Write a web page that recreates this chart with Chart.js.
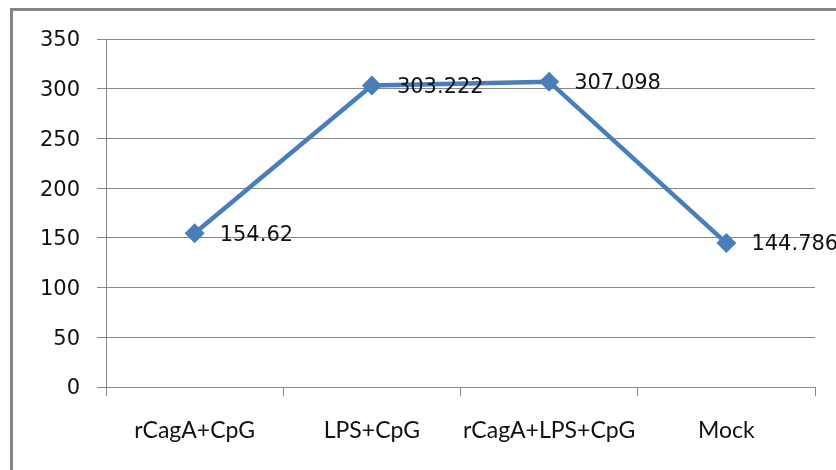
<!DOCTYPE html>
<html>
<head>
<meta charset="utf-8">
<script src="https://cdn.jsdelivr.net/npm/chart.js@4/dist/chart.umd.min.js"></script>
<style>
  html, body { margin: 0; padding: 0; background: #ffffff; }
  #wrap { position: relative; width: 836px; height: 470px; }
</style>
</head>
<body>
<div id="wrap"><canvas id="chart" width="836" height="470"></canvas></div>
<script>
// Treatment groups and their measured values
const categories = ['rCagA+CpG', 'LPS+CpG', 'rCagA+LPS+CpG', 'Mock'];
const values = [154.62, 303.222, 307.098, 144.786];
const valueLabels = ['154.62', '303.222', '307.098', '144.786'];
const yTicks = [0, 50, 100, 150, 200, 250, 300, 350];

const LINE_BLUE = '#4a7ebb';
const AXIS_GREY = '#878787';
const TEXT_DARK = '#111111';

// Frame drawn along the top and left edges of the chart box
const framePlugin = {
  id: 'frame',
  beforeDraw(chart) {
    const ctx = chart.ctx;
    ctx.save();
    ctx.fillStyle = '#ffffff';
    ctx.fillRect(0, 0, chart.width, chart.height);
    ctx.fillStyle = '#858585';
    ctx.fillRect(10, 8, chart.width - 10, 3);
    ctx.fillRect(10, 8, 3, chart.height - 8);
    ctx.restore();
  }
};

// Value labels written to the right of each marker
const valueLabelPlugin = {
  id: 'valueLabels',
  afterDatasetsDraw(chart) {
    const ctx = chart.ctx;
    const meta = chart.getDatasetMeta(0);
    ctx.save();
    ctx.font = '21px "DejaVu Sans"';
    ctx.fillStyle = TEXT_DARK;
    ctx.textAlign = 'left';
    ctx.textBaseline = 'middle';
    meta.data.forEach((pt, i) => {
      ctx.fillText(valueLabels[i], pt.x + 25, pt.y + 2);
    });
    ctx.restore();
  }
};

new Chart(document.getElementById('chart'), {
  type: 'line',
  data: {
    labels: categories,
    datasets: [{
      data: values,
      borderColor: LINE_BLUE,
      backgroundColor: LINE_BLUE,
      borderWidth: 4.5,
      tension: 0,
      pointStyle: 'rectRot',
      pointRadius: 10,
      pointHoverRadius: 10,
      pointBorderWidth: 0,
      pointBackgroundColor: LINE_BLUE
    }]
  },
  options: {
    responsive: false,
    animation: false,
    events: [],
    layout: { padding: { left: 0, top: 39, right: 21, bottom: 0 } },
    plugins: {
      legend: { display: false },
      tooltip: { enabled: false }
    },
    scales: {
      x: {
        offset: true,
        grid: {
          offset: true,
          drawOnChartArea: false,
          drawTicks: true,
          tickLength: 9,
          color: AXIS_GREY,
          lineWidth: 1
        },
        border: { display: true, color: AXIS_GREY, width: 1 },
        ticks: {
          color: TEXT_DARK,
          font: { family: 'Lato', size: 23 },
          padding: 21,
          maxRotation: 0,
          autoSkip: false
        },
        afterFit(scale) { scale.height = 83; }
      },
      y: {
        min: 0,
        max: 350,
        afterBuildTicks(scale) { scale.ticks = yTicks.map(v => ({ value: v })); },
        grid: {
          color: AXIS_GREY,
          lineWidth: 1,
          drawTicks: true,
          tickLength: 9
        },
        border: { display: true, color: AXIS_GREY, width: 1 },
        ticks: {
          color: TEXT_DARK,
          font: { family: 'DejaVu Sans', size: 21, lineHeight: 1.0 },
          padding: 17,
          labelOffset: 2
        },
        afterFit(scale) { scale.width = 106; }
      }
    }
  },
  plugins: [framePlugin, valueLabelPlugin]
});
</script>
</body>
</html>
